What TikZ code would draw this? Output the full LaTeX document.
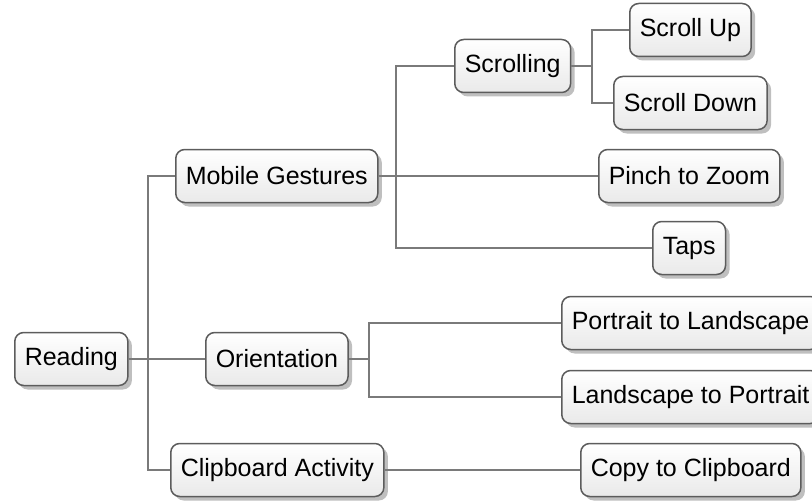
\documentclass[tikz,border=0pt]{standalone}
\usepackage{fontspec}
\setmainfont{Liberation Sans}
\usepackage{xcolor}
\usepackage{tikz}
\usetikzlibrary{positioning, shadows, calc}

\definecolor{edgegray}{HTML}{7A7A7A}
\definecolor{boxgray}{HTML}{5C5C5C}

\begin{document}
\begin{tikzpicture}[
    x=1pt, y=-1pt,
    topic/.style={rectangle, draw=boxgray, line width=1.5pt,
      rounded corners=9pt, anchor=west,
      minimum height=53pt, inner xsep=10pt,
      top color=white, bottom color=gray!17,
      font=\fontsize{25}{30}\selectfont,
      drop shadow={shadow xshift=4pt, shadow yshift=-4pt,
        fill=gray!50, opacity=1}},
    branch/.style={draw=edgegray, line width=2pt},
]
\useasboundingbox (0,0) rectangle (812,503);

% ── Root and first level ──
\node[topic] (reading) at (14,359) {Reading};
\node[topic] (mobile) at (175,176) {Mobile Gestures};
\node[topic] (orient) at (205,359) {Orientation};
\node[topic] (clip) at (170,470) {Clipboard Activity};

% ── Gestures ──
\node[topic] (scroll) at (454,66) {Scrolling};
\node[topic] (up) at (629,30) {Scroll Up};
\node[topic] (down) at (613,103) {Scroll Down};
\node[topic] (pinch) at (598,176) {Pinch to Zoom};
\node[topic] (taps) at (652,248) {Taps};

% ── Orientation and clipboard ──
\node[topic] (p2l) at (561,323) {Portrait to Landscape};
\node[topic] (l2p) at (561,397) {Landscape to Portrait};
\node[topic] (copy) at (580,470) {Copy to Clipboard};

% ── Branches ──
\draw[branch] (reading.east) -- ++(19,0) |- (mobile.west);
\draw[branch] (reading.east) -- (orient.west);
\draw[branch] (reading.east) -- ++(19,0) |- (clip.west);

\draw[branch] (mobile.east) -- ++(17,0) |- (scroll.west);
\draw[branch] (mobile.east) -- (pinch.west);
\draw[branch] (mobile.east) -- ++(17,0) |- (taps.west);

\draw[branch] (scroll.east) -- ++(21,0) |- (up.west);
\draw[branch] (scroll.east) -- ++(21,0) |- (down.west);

\draw[branch] (orient.east) -- ++(20,0) |- (p2l.west);
\draw[branch] (orient.east) -- ++(20,0) |- (l2p.west);

\draw[branch] (clip.east) -- (copy.west);

\end{tikzpicture}
\end{document}
